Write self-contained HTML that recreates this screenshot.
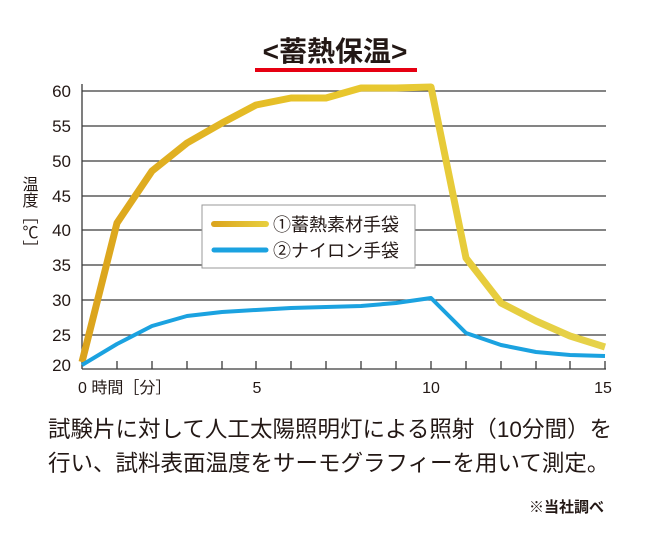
<!DOCTYPE html>
<html><head><meta charset="utf-8"><style>
body{margin:0;background:#fff;width:650px;height:548px;overflow:hidden}
svg text{font-family:"Liberation Sans","Noto Sans CJK JP",sans-serif;fill:#231815}
</style></head><body>
<svg width="650" height="548" viewBox="0 0 650 548">
<defs><linearGradient id="g" x1="82" y1="0" x2="604" y2="0" gradientUnits="userSpaceOnUse">
<stop offset="0" stop-color="#dba31c"/><stop offset="0.45" stop-color="#e8c52a"/><stop offset="1" stop-color="#e6d24a"/></linearGradient>
<linearGradient id="g2" x1="210" y1="0" x2="270" y2="0" gradientUnits="userSpaceOnUse">
<stop offset="0" stop-color="#dba31c"/><stop offset="1" stop-color="#e8d040"/></linearGradient></defs>
<text x="335" y="61" font-size="28" font-weight="bold" text-anchor="middle">&lt;蓄熱保温&gt;</text>
<rect x="255" y="68" width="162" height="4" fill="#e60012"/>
<g stroke="#3a3a3a" stroke-width="1.3">
<line x1="82" y1="91" x2="606" y2="91"/><line x1="82" y1="126" x2="606" y2="126"/>
<line x1="82" y1="161" x2="606" y2="161"/><line x1="82" y1="196" x2="606" y2="196"/>
<line x1="82" y1="230" x2="606" y2="230"/><line x1="82" y1="265" x2="606" y2="265"/>
<line x1="82" y1="300" x2="606" y2="300"/><line x1="82" y1="335" x2="606" y2="335"/>
<line x1="82" y1="369" x2="606" y2="369"/><line x1="82" y1="84" x2="82" y2="369"/>
</g>
<g stroke="#3a3a3a" stroke-width="1.3">
<line x1="117" y1="369" x2="117" y2="361"/><line x1="152" y1="369" x2="152" y2="361"/><line x1="187" y1="369" x2="187" y2="361"/><line x1="222" y1="369" x2="222" y2="361"/><line x1="256" y1="369" x2="256" y2="361"/><line x1="291" y1="369" x2="291" y2="361"/><line x1="326" y1="369" x2="326" y2="361"/><line x1="361" y1="369" x2="361" y2="361"/><line x1="396" y1="369" x2="396" y2="361"/><line x1="431" y1="369" x2="431" y2="361"/><line x1="466" y1="369" x2="466" y2="361"/><line x1="501" y1="369" x2="501" y2="361"/><line x1="536" y1="369" x2="536" y2="361"/><line x1="570" y1="369" x2="570" y2="361"/><line x1="605" y1="369" x2="605" y2="361"/>
</g>
<g font-size="17" text-anchor="end">
<text x="71" y="97">60</text><text x="71" y="132">55</text><text x="71" y="167">50</text><text x="71" y="202">45</text><text x="71" y="236">40</text><text x="71" y="271">35</text><text x="71" y="306">30</text><text x="71" y="341">25</text><text x="71" y="371">20</text>
</g>
<g font-size="16"><text x="78" y="393">0 時間［分］</text><text x="257" y="393" text-anchor="middle">5</text><text x="431" y="393" text-anchor="middle">10</text><text x="603" y="393" text-anchor="middle">15</text></g>
<text font-size="16" x="28" y="176" style="writing-mode:vertical-rl;text-orientation:upright">温度［℃］</text>
<polyline fill="none" stroke="url(#g)" stroke-width="7" stroke-linejoin="round" points="82,362 117,223 152,171 187,143 222,123 256,105 291,98 326,98 361,88 396,88 431,87 466,258 501,303 536,321 570,336 605,347"/>
<polyline fill="none" stroke="#1ba2e0" stroke-width="4" stroke-linejoin="round" points="82,365 117,344 152,326 187,316 222,312 256,310 291,308 326,307 361,306 396,303 431,298 466,333 501,345 536,352 570,355 605,356"/>
<rect x="202" y="205" width="213" height="63" fill="#fff" stroke="#999" stroke-width="1"/>
<line x1="214" y1="224" x2="266" y2="224" stroke="url(#g2)" stroke-width="6" stroke-linecap="round"/>
<line x1="214" y1="250" x2="266" y2="250" stroke="#1ba2e0" stroke-width="5" stroke-linecap="round"/>
<text x="273" y="231" font-size="18">①蓄熱素材手袋</text>
<text x="273" y="257" font-size="18">②ナイロン手袋</text>
<text x="48" y="437" font-size="22.5" textLength="564">試験片に対して人工太陽照明灯による照射（10分間）を</text>
<text x="48" y="471" font-size="22.5">行い、試料表面温度をサーモグラフィーを用いて測定。</text>
<text x="604" y="512" font-size="15" font-weight="bold" text-anchor="end">※当社調べ</text>
</svg>
</body></html>
